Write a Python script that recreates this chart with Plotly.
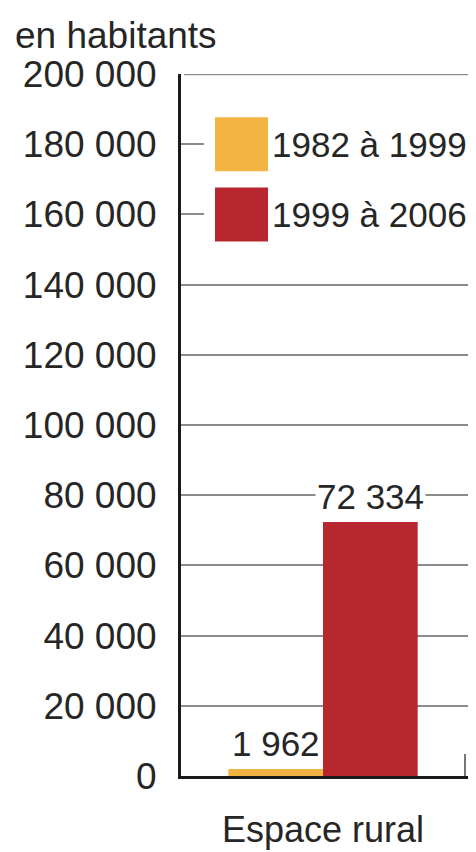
import plotly.graph_objects as go

categories = ["Espace rural"]
series_names = ["1982 à 1999", "1999 à 2006"]
values_1982_1999 = [1962]
values_1999_2006 = [72334]
tick_values = [0, 20000, 40000, 60000, 80000, 100000, 120000, 140000, 160000, 180000, 200000]
tick_labels = ["0", "20 000", "40 000", "60 000", "80 000", "100 000", "120 000",
               "140 000", "160 000", "180 000", "200 000"]
unit_label = "en habitants"

colors = ["#F3B443", "#B8262F"]
FONT = "Liberation Sans, Arial, sans-serif"
TXT = "#262626"
GRID = "#8c8c8c"

W, H = 476, 852
L, R, T, B = 173, 0, 66, 84
PW, PH = W - L - R, H - T - B

def fmt(v):
    return f"{v:,}".replace(",", " ")

fig = go.Figure()
for name, vals, col in zip(series_names, [values_1982_1999, values_1999_2006], colors):
    fig.add_trace(go.Bar(x=categories, y=vals, name=name, marker=dict(color=col, line=dict(width=0)),
                         showlegend=False))

# top frame line at the top of the value range
fig.add_shape(type="line", xref="paper", yref="y", x0=0.01, x1=1, y0=tick_values[-1], y1=tick_values[-1],
              line=dict(color=GRID, width=2.5), layer="below")

# value labels
for i, vals in enumerate([values_1982_1999, values_1999_2006]):
    off = -1/6 if i == 0 else 1/6
    for c, v in zip(categories, vals):
        fig.add_annotation(x=0 + off, y=v, xref="x", yref="y", text=fmt(v), showarrow=False,
                           yanchor="bottom", yshift=4, bgcolor="white" if i == 1 else "rgba(0,0,0,0)",
                           font=dict(family=FONT, size=35, color=TXT), borderpad=1)

def px_x(p):
    return (p - L) / PW

# legend: background and swatches aligned with the 180 000 / 160 000 lines
fig.add_shape(type="rect", xref="paper", yref="y", x0=px_x(196), x1=1.02, y0=146000, y1=196000,
              fillcolor="white", line=dict(width=0), layer="above")
for yc, name, col in zip([0.9, 0.8], series_names, colors):
    fig.add_shape(type="rect", xref="paper", yref="paper", x0=px_x(207), x1=px_x(260),
                  y0=yc - 27 / PH, y1=yc + 27 / PH, fillcolor=col, line=dict(width=0), layer="above")
    fig.add_annotation(xref="paper", yref="paper", x=px_x(262), y=yc, text=name,
                       showarrow=False, xanchor="left", yanchor="middle",
                       font=dict(family=FONT, size=35, color=TXT))

fig.add_annotation(xref="paper", yref="paper", x=px_x(5), y=1 + (66 - 28) / PH, text=unit_label,
                   showarrow=False, xanchor="left", yanchor="middle",
                   font=dict(family=FONT, size=37, color=TXT))

pxpu = 284.0
fig.update_layout(
    width=W, height=H, margin=dict(l=L, r=R, t=T, b=B, pad=0),
    paper_bgcolor="white", plot_bgcolor="white",
    barmode="group", bargap=1/3, bargroupgap=0,
    font=dict(family=FONT, size=36, color=TXT),
    xaxis=dict(type="category", range=[-0.5, 0.5 + (W - 457) / pxpu], showgrid=False, automargin=False,
               showline=True, linecolor="#1a1a1a", linewidth=3,
               ticks="inside", tickson="boundaries", ticklen=22, tickcolor="#777", tickwidth=1.5,
               ticklabelstandoff=20, tickfont=dict(family=FONT, size=36, color=TXT)),
    yaxis=dict(range=[0, 200000], tickvals=tick_values, ticktext=tick_labels, automargin=False,
               showgrid=True, gridcolor=GRID, gridwidth=2, zeroline=False,
               showline=True, linecolor="#1a1a1a", linewidth=3,
               ticks="", ticklabelstandoff=14, tickfont=dict(family=FONT, size=37, color=TXT)),
)

fig.write_html("out.html")
